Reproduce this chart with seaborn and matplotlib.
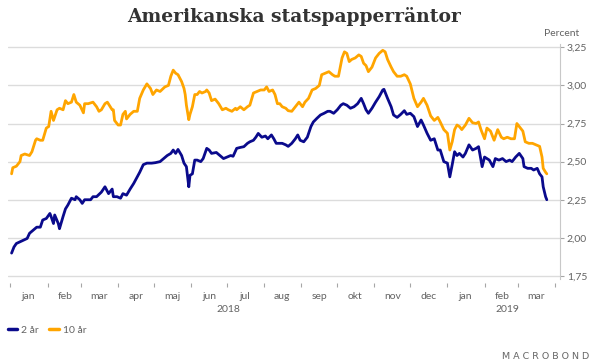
import pandas as pd
import matplotlib.pyplot as plt
import matplotlib.dates as mdates
from matplotlib.ticker import FixedLocator, FixedFormatter, FuncFormatter
from matplotlib.lines import Line2D
import seaborn as sns

# --- data (percent) ---
dates_10y = [
    "2018-01-02", "2018-01-03", "2018-01-06", "2018-01-09", "2018-01-10", "2018-01-13", "2018-01-17",
    "2018-01-19", "2018-01-22", "2018-01-23", "2018-01-26", "2018-01-28", "2018-01-31", "2018-02-02",
    "2018-02-03", "2018-02-04", "2018-02-06", "2018-02-09", "2018-02-11", "2018-02-14", "2018-02-16",
    "2018-02-18", "2018-02-21", "2018-02-23", "2018-02-25", "2018-02-28", "2018-03-03", "2018-03-04",
    "2018-03-07", "2018-03-11", "2018-03-14", "2018-03-16", "2018-03-18", "2018-03-21", "2018-03-23",
    "2018-03-27", "2018-03-28", "2018-03-29", "2018-04-01", "2018-04-03", "2018-04-05", "2018-04-07",
    "2018-04-08", "2018-04-11", "2018-04-14", "2018-04-17", "2018-04-19", "2018-04-22", "2018-04-25",
    "2018-04-28", "2018-04-30", "2018-05-03", "2018-05-06", "2018-05-10", "2018-05-13", "2018-05-15",
    "2018-05-17", "2018-05-19", "2018-05-21", "2018-05-24", "2018-05-26", "2018-05-27", "2018-05-28",
    "2018-05-30", "2018-05-31", "2018-06-02", "2018-06-04", "2018-06-06", "2018-06-08", "2018-06-10",
    "2018-06-13", "2018-06-14", "2018-06-16", "2018-06-18", "2018-06-21", "2018-06-24", "2018-06-27",
    "2018-06-30", "2018-07-02", "2018-07-05", "2018-07-08", "2018-07-09", "2018-07-12", "2018-07-15",
    "2018-07-18", "2018-07-20", "2018-07-23", "2018-07-26", "2018-07-29", "2018-08-01", "2018-08-03",
    "2018-08-05", "2018-08-08", "2018-08-10", "2018-08-12", "2018-08-14", "2018-08-16", "2018-08-19",
    "2018-08-21", "2018-08-24", "2018-08-27", "2018-08-30", "2018-09-02", "2018-09-04", "2018-09-07",
    "2018-09-10", "2018-09-13", "2018-09-16", "2018-09-18", "2018-09-21", "2018-09-24", "2018-09-27",
    "2018-09-29", "2018-10-02", "2018-10-05", "2018-10-07", "2018-10-09", "2018-10-11", "2018-10-13",
    "2018-10-16", "2018-10-19", "2018-10-21", "2018-10-23", "2018-10-25", "2018-10-27", "2018-10-30",
    "2018-11-02", "2018-11-05", "2018-11-08", "2018-11-10", "2018-11-12", "2018-11-15", "2018-11-17",
    "2018-11-20", "2018-11-23", "2018-11-26", "2018-11-28", "2018-12-01", "2018-12-04", "2018-12-07",
    "2018-12-10", "2018-12-12", "2018-12-15", "2018-12-18", "2018-12-21", "2018-12-24", "2018-12-26",
    "2018-12-29", "2019-01-01", "2019-01-03", "2019-01-05", "2019-01-07", "2019-01-09", "2019-01-11",
    "2019-01-13", "2019-01-16", "2019-01-19", "2019-01-22", "2019-01-25", "2019-01-27", "2019-01-29",
    "2019-02-01", "2019-02-03", "2019-02-06", "2019-02-09", "2019-02-12", "2019-02-15", "2019-02-17",
    "2019-02-20", "2019-02-23", "2019-02-26", "2019-02-28", "2019-03-02", "2019-03-05", "2019-03-07",
    "2019-03-10", "2019-03-13", "2019-03-16", "2019-03-19", "2019-03-21", "2019-03-22", "2019-03-24",
    "2019-03-25",
]
yield_10y = [
    2.42, 2.46, 2.47, 2.50, 2.54, 2.55, 2.54,
    2.565, 2.64, 2.65, 2.64, 2.64, 2.72, 2.73,
    2.78, 2.83, 2.77, 2.84, 2.85, 2.84, 2.90,
    2.88, 2.89, 2.94, 2.89, 2.87, 2.82, 2.88,
    2.88, 2.89, 2.86, 2.83, 2.84, 2.88, 2.89,
    2.84, 2.84, 2.77, 2.74, 2.74, 2.81, 2.83,
    2.78, 2.81, 2.83, 2.83, 2.915, 2.97, 3.01,
    2.98, 2.94, 2.97, 2.96, 2.99, 3.00, 3.06,
    3.10, 3.08, 3.07, 3.025, 2.98, 2.94, 2.87,
    2.775, 2.81, 2.86, 2.94, 2.94, 2.96, 2.95,
    2.96, 2.97, 2.95, 2.90, 2.91, 2.88, 2.84,
    2.85, 2.84, 2.83, 2.85, 2.84, 2.86, 2.84,
    2.86, 2.87, 2.95, 2.96, 2.97, 2.97, 2.99,
    2.96, 2.97, 2.94, 2.88, 2.88, 2.86, 2.85,
    2.834, 2.83, 2.86, 2.89, 2.86, 2.89, 2.915,
    2.97, 2.98, 3.00, 3.07, 3.08, 3.09, 3.07,
    3.06, 3.06, 3.18, 3.22, 3.21, 3.156, 3.17,
    3.18, 3.20, 3.19, 3.145, 3.13, 3.09, 3.12,
    3.18, 3.21, 3.23, 3.22, 3.17, 3.12, 3.09,
    3.06, 3.06, 3.07, 3.06, 3.01, 2.915, 2.86,
    2.89, 2.915, 2.87, 2.80, 2.77, 2.79, 2.76,
    2.71, 2.686, 2.576, 2.63, 2.71, 2.74, 2.73,
    2.71, 2.74, 2.784, 2.755, 2.75, 2.76, 2.71,
    2.65, 2.72, 2.70, 2.64, 2.71, 2.66, 2.65,
    2.66, 2.65, 2.65, 2.75, 2.73, 2.70, 2.63,
    2.62, 2.62, 2.61, 2.60, 2.53, 2.456, 2.43,
    2.42,
]

dates_2y = [
    "2018-01-02", "2018-01-04", "2018-01-06", "2018-01-09", "2018-01-12", "2018-01-15", "2018-01-17",
    "2018-01-20", "2018-01-23", "2018-01-26", "2018-01-28", "2018-01-31", "2018-02-03", "2018-02-04",
    "2018-02-06", "2018-02-07", "2018-02-10", "2018-02-11", "2018-02-14", "2018-02-16", "2018-02-18",
    "2018-02-21", "2018-02-24", "2018-02-25", "2018-02-28", "2018-03-02", "2018-03-04", "2018-03-09",
    "2018-03-11", "2018-03-14", "2018-03-18", "2018-03-21", "2018-03-24", "2018-03-27", "2018-03-28",
    "2018-03-31", "2018-04-03", "2018-04-05", "2018-04-08", "2018-04-11", "2018-04-14", "2018-04-17",
    "2018-04-19", "2018-04-22", "2018-04-25", "2018-04-29", "2018-05-02", "2018-05-06", "2018-05-09",
    "2018-05-12", "2018-05-15", "2018-05-17", "2018-05-19", "2018-05-21", "2018-05-24", "2018-05-26",
    "2018-05-28", "2018-05-30", "2018-05-31", "2018-06-02", "2018-06-04", "2018-06-06", "2018-06-09",
    "2018-06-11", "2018-06-14", "2018-06-16", "2018-06-18", "2018-06-22", "2018-06-25", "2018-06-28",
    "2018-07-01", "2018-07-04", "2018-07-06", "2018-07-09", "2018-07-12", "2018-07-15", "2018-07-18",
    "2018-07-20", "2018-07-23", "2018-07-25", "2018-07-27", "2018-07-30", "2018-08-02", "2018-08-04",
    "2018-08-07", "2018-08-09", "2018-08-11", "2018-08-14", "2018-08-16", "2018-08-19", "2018-08-21",
    "2018-08-24", "2018-08-27", "2018-08-29", "2018-08-31", "2018-09-03", "2018-09-06", "2018-09-09",
    "2018-09-11", "2018-09-14", "2018-09-17", "2018-09-20", "2018-09-23", "2018-09-25", "2018-09-28",
    "2018-10-01", "2018-10-04", "2018-10-06", "2018-10-09", "2018-10-12", "2018-10-15", "2018-10-18",
    "2018-10-21", "2018-10-23", "2018-10-25", "2018-10-27", "2018-10-30", "2018-11-02", "2018-11-05",
    "2018-11-08", "2018-11-09", "2018-11-12", "2018-11-15", "2018-11-17", "2018-11-20", "2018-11-23",
    "2018-11-26", "2018-11-28", "2018-12-01", "2018-12-04", "2018-12-07", "2018-12-10", "2018-12-12",
    "2018-12-15", "2018-12-18", "2018-12-21", "2018-12-24", "2018-12-26", "2018-12-29", "2019-01-01",
    "2019-01-03", "2019-01-05", "2019-01-07", "2019-01-09", "2019-01-11", "2019-01-14", "2019-01-16",
    "2019-01-19", "2019-01-22", "2019-01-25", "2019-01-27", "2019-01-30", "2019-02-01", "2019-02-05",
    "2019-02-08", "2019-02-10", "2019-02-13", "2019-02-16", "2019-02-19", "2019-02-22", "2019-02-24",
    "2019-02-27", "2019-03-02", "2019-03-05", "2019-03-06", "2019-03-09", "2019-03-12", "2019-03-14",
    "2019-03-17", "2019-03-19", "2019-03-21", "2019-03-22", "2019-03-24", "2019-03-25",
]
yield_2y = [
    1.90, 1.94, 1.963, 1.974, 1.985, 1.996, 2.03,
    2.05, 2.07, 2.07, 2.117, 2.127, 2.16, 2.14,
    2.094, 2.15, 2.094, 2.06, 2.14, 2.19, 2.215,
    2.26, 2.25, 2.27, 2.25, 2.226, 2.25, 2.25,
    2.27, 2.27, 2.30, 2.335, 2.29, 2.32, 2.27,
    2.27, 2.26, 2.29, 2.28, 2.32, 2.357, 2.40,
    2.43, 2.48, 2.49, 2.49, 2.493, 2.50, 2.52,
    2.54, 2.554, 2.576, 2.554, 2.58, 2.54, 2.49,
    2.467, 2.335, 2.41, 2.42, 2.51, 2.51, 2.50,
    2.52, 2.587, 2.576, 2.554, 2.56, 2.54, 2.52,
    2.53, 2.54, 2.535, 2.587, 2.593, 2.598, 2.62,
    2.63, 2.64, 2.66, 2.685, 2.66, 2.668, 2.65,
    2.675, 2.65, 2.62, 2.62, 2.62, 2.61, 2.60,
    2.62, 2.65, 2.675, 2.64, 2.63, 2.66, 2.73,
    2.76, 2.784, 2.806, 2.817, 2.83, 2.83, 2.817,
    2.84, 2.87, 2.88, 2.87, 2.85, 2.86, 2.88,
    2.915, 2.88, 2.84, 2.817, 2.85, 2.89, 2.926,
    2.97, 2.974, 2.915, 2.86, 2.806, 2.79, 2.81,
    2.834, 2.81, 2.817, 2.795, 2.73, 2.773, 2.74,
    2.686, 2.64, 2.65, 2.576, 2.576, 2.50, 2.49,
    2.40, 2.48, 2.565, 2.54, 2.554, 2.53, 2.554,
    2.61, 2.576, 2.587, 2.598, 2.467, 2.53, 2.51,
    2.467, 2.52, 2.51, 2.52, 2.50, 2.51, 2.50,
    2.53, 2.554, 2.52, 2.467, 2.456, 2.456, 2.445,
    2.456, 2.42, 2.40, 2.335, 2.27, 2.25,
]

series_names = ["2 år", "10 år"]
series_colors = ["#0a0a8c", "#ffa500"]
month_labels = ["jan", "feb", "mar", "apr", "maj", "jun", "jul", "aug",
                "sep", "okt", "nov", "dec", "jan", "feb", "mar"]
year_labels = ["2018", "2019"]
y_ticks = [1.75, 2.00, 2.25, 2.50, 2.75, 3.00, 3.25]

df = pd.concat([
    pd.DataFrame({"datum": pd.to_datetime(dates_2y), "ranta": yield_2y, "serie": series_names[0]}),
    pd.DataFrame({"datum": pd.to_datetime(dates_10y), "ranta": yield_10y, "serie": series_names[1]}),
], ignore_index=True)

sns.set_style("white")
plt.rcParams["font.family"] = ["Lato", "DejaVu Sans"]
grey = "#636363"

fig = plt.figure(figsize=(5.92, 3.61), dpi=100)
ax = fig.add_axes([0.0135, 0.2271, 0.9324, 0.6504])

palette = dict(zip(series_names, series_colors))
sns.lineplot(data=df, x="datum", y="ranta", hue="serie", palette=palette,
             linewidth=2.0, ax=ax, legend=False)

ax.set_xlim(pd.Timestamp("2017-12-30"), pd.Timestamp("2019-04-05"))
ax.set_ylim(1.73, 3.27)
ax.set_xlabel("")
ax.set_ylabel("")

# y axis on the right, decimal comma
ax.yaxis.tick_right()
ax.set_yticks(y_ticks)
ax.yaxis.set_major_formatter(FuncFormatter(lambda v, p: f"{v:.2f}".replace(".", ",")))
ax.tick_params(axis="y", which="major", right=True, length=3, width=0.8,
               color="#a6a6a6", labelcolor=grey, labelsize=7.5, pad=2)
ax.yaxis.grid(True, color="#dcdcdc", linewidth=1.0)
ax.xaxis.grid(False)

# x axis: month boundary ticks, labels in between
month_starts = pd.date_range("2018-01-01", "2019-04-01", freq="MS")
month_mids = month_starts[:-1] + pd.Timedelta(days=15)
ax.xaxis.set_major_locator(FixedLocator(mdates.date2num(month_starts)))
ax.xaxis.set_major_formatter(FixedFormatter([""] * len(month_starts)))
ax.xaxis.set_minor_locator(FixedLocator(mdates.date2num(month_mids)))
ax.xaxis.set_minor_formatter(FixedFormatter(month_labels))
ax.tick_params(axis="x", which="major", bottom=True, length=3, width=0.8,
               color="#a6a6a6", direction="inout")
ax.tick_params(axis="x", which="minor", bottom=True, length=0,
               labelcolor=grey, labelsize=7.5, pad=5)
# longer tick at the year boundary
ax.xaxis.get_major_ticks()[12].tick1line.set_markersize(7)

for s in ["top", "left"]:
    ax.spines[s].set_visible(False)
ax.spines["bottom"].set_position(("outward", 4))
ax.spines["bottom"].set_visible(False)
ax.spines["right"].set_color("#c8c8c8")
ax.spines["right"].set_linewidth(0.8)

year_pos = [pd.Timestamp("2018-07-02"), pd.Timestamp("2019-02-20")]
for pos, lab in zip(year_pos, year_labels):
    ax.text(mdates.date2num(pos), -0.13, lab, transform=ax.get_xaxis_transform(),
            ha="center", va="center", fontsize=7.5, color=grey)

fig.text(0.497, 0.955, "Amerikanska statspapperräntor", ha="center", va="center",
         fontsize=13.5, fontweight="bold", family="DejaVu Serif", color="#333333")
fig.text(0.949, 0.908, "Percent", ha="center", va="center", fontsize=7.5, color=grey)

handles = [Line2D([], [], color=c, linewidth=2.5) for c in series_colors]
fig.legend(handles, series_names, loc="center left", bbox_to_anchor=(-0.003, 0.086),
           ncol=2, frameon=False, fontsize=7.5, handlelength=0.9, handletextpad=0.4,
           columnspacing=1.0, labelcolor=grey)

fig.text(0.995, 0.012, "M A C R O B O N D", ha="right", va="center", fontsize=6.8,
         family="DejaVu Sans", color="#666666")

fig.savefig("out.png", dpi=100, facecolor="white")
